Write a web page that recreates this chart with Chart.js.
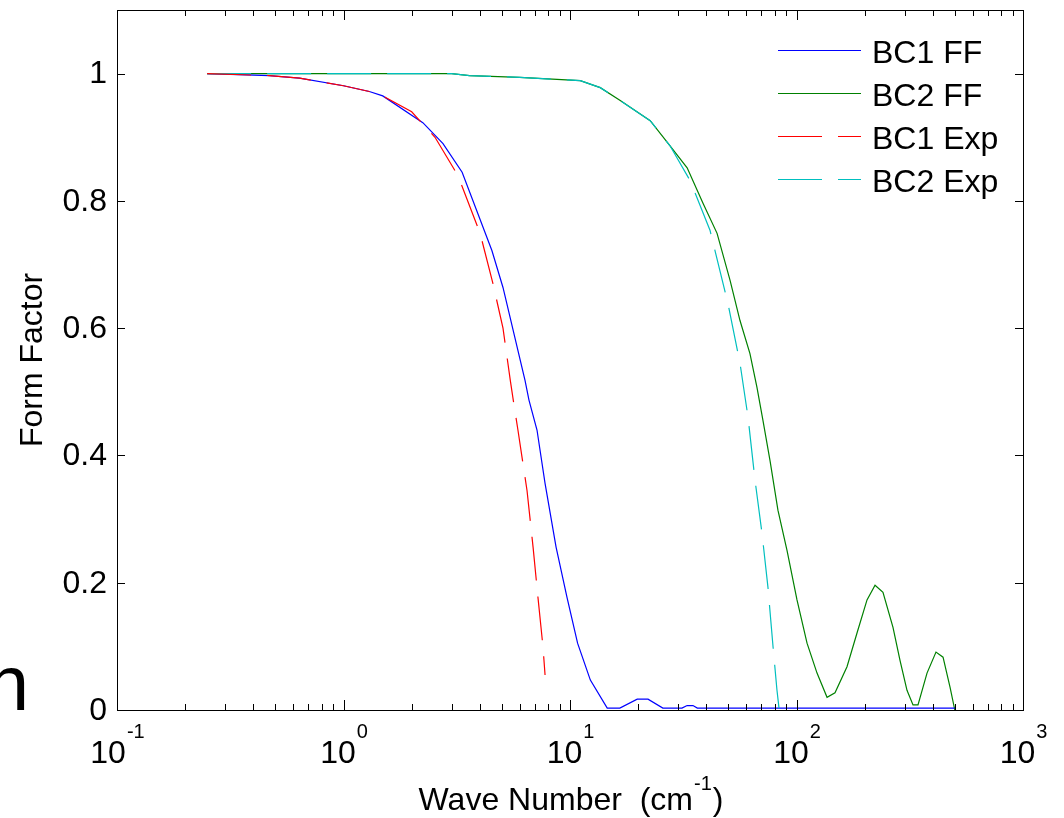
<!DOCTYPE html>
<html lang="en">
<head>
<meta charset="UTF-8">
<title>Form Factor</title>
<script src="https://cdn.jsdelivr.net/npm/chart.js@4.4.1/dist/chart.umd.min.js"></script>
<style>
  body { margin: 0; background: #fff; }
</style>
</head>
<body>
<canvas id="myChart" width="1064" height="818"></canvas>
<script>
// values (wave number in cm^-1, form factor)
var bc1Wn = [0.25, 0.47, 0.64, 1.0, 1.3, 1.49, 2.24, 2.75, 3.34, 4.52, 5.06, 6.33, 6.59, 7.15, 7.76, 8.68, 9.7, 10.8, 12.3, 14.6, 16.6, 19.8, 22.1, 25.7, 31.2, 32.9, 34.9, 36.5, 500];
var bc1FF = [1.0, 0.997, 0.993, 0.981, 0.972, 0.965, 0.923, 0.89, 0.845, 0.722, 0.664, 0.518, 0.487, 0.44, 0.356, 0.256, 0.177, 0.105, 0.047, 0.003, 0.003, 0.017, 0.017, 0.003, 0.003, 0.007, 0.007, 0.003, 0.003];

var bc2Wn = [0.25, 3.0, 3.6, 6.0, 11.1, 13.6, 16.6, 22.6, 27.6, 32.9, 38.7, 44.6, 50.9, 56.3, 62.3, 66.9, 71.1, 76.4, 82.8, 90.8, 100.5, 111.3, 123.2, 136.4, 147.9, 167.1, 185, 204.8, 222.2, 240.9, 266.7, 286.4, 307.5, 326.9, 343.9, 376.9, 412.9, 443.6, 476.2, 500];
var bc2FF = [1.0, 1.0, 0.997, 0.994, 0.989, 0.978, 0.958, 0.926, 0.887, 0.852, 0.796, 0.749, 0.675, 0.612, 0.56, 0.507, 0.455, 0.392, 0.314, 0.251, 0.173, 0.105, 0.058, 0.020, 0.027, 0.068, 0.121, 0.173, 0.196, 0.185, 0.13, 0.078, 0.031, 0.008, 0.008, 0.058, 0.091, 0.083, 0.036, 0.0];

var bc1ExpWn = [0.25, 0.47, 0.64, 1.0, 1.3, 1.49, 2.0, 2.535, 3.2, 4.01, 4.57, 5.06, 5.45, 5.6, 5.89, 6.46, 6.87, 7.22, 7.6, 7.76];
var bc1Exp = [1.0, 0.997, 0.993, 0.981, 0.972, 0.965, 0.94, 0.9, 0.84, 0.749, 0.67, 0.60, 0.518, 0.49, 0.44, 0.345, 0.256, 0.177, 0.099, 0.055];

var bc2ExpWn = [0.25, 3.0, 3.6, 6.0, 11.1, 13.6, 16.6, 22.6, 27.6, 33.9, 41.5, 49.8, 56.3, 61.1, 65.6, 70.4, 74.8, 78.8, 82.0, 83.7];
var bc2Exp = [1.0, 1.0, 0.997, 0.994, 0.989, 0.978, 0.958, 0.926, 0.887, 0.832, 0.754, 0.639, 0.545, 0.46, 0.361, 0.278, 0.193, 0.099, 0.031, 0.003];

var yTicks = [0, 0.2, 0.4, 0.6, 0.8, 1];
var yTickLabels = ['0', '0.2', '0.4', '0.6', '0.8', '1'];
var xDecades = [-1, 0, 1, 2, 3];
var legendLabels = ['BC1 FF', 'BC2 FF', 'BC1 Exp', 'BC2 Exp'];

var FONT = '"Liberation Sans", Arial, Helvetica, sans-serif';

function pts(xs, ys) {
    return xs.map(function (x, i) { return {x: x, y: ys[i]}; });
}

// ticks, box, tick labels, titles, legend (MATLAB look)
var matlabAxes = {
    id: 'matlabAxes',
    afterDraw: function (chart) {
        var ctx = chart.ctx;
        var a = chart.chartArea;
        var xs = chart.scales.x, ys = chart.scales.y;
        ctx.save();
        ctx.strokeStyle = '#000';
        ctx.lineWidth = 1;
        ctx.strokeRect(Math.round(a.left) + 0.5, Math.round(a.top) + 0.5, Math.round(a.right - a.left), Math.round(a.bottom - a.top));

        ctx.beginPath();
        for (var d = -1; d <= 2; d++) {
            for (var m = 1; m <= 9; m++) {
                var px = Math.round(xs.getPixelForValue(m * Math.pow(10, d))) + 0.5;
                var len = m === 1 ? 10 : 6;
                ctx.moveTo(px, a.bottom); ctx.lineTo(px, a.bottom - len);
                ctx.moveTo(px, a.top); ctx.lineTo(px, a.top + len);
            }
        }
        yTicks.forEach(function (v) {
            var py = Math.round(ys.getPixelForValue(v)) + 0.5;
            ctx.moveTo(a.left, py); ctx.lineTo(a.left + 8, py);
            ctx.moveTo(a.right, py); ctx.lineTo(a.right - 8, py);
        });
        ctx.stroke();

        // y tick labels
        ctx.fillStyle = '#000';
        ctx.font = '32px ' + FONT;
        ctx.textAlign = 'right';
        ctx.textBaseline = 'middle';
        yTicks.forEach(function (v, i) {
            ctx.fillText(yTickLabels[i], a.left - 10, ys.getPixelForValue(v) + 1);
        });

        // x tick labels 10^n
        ctx.textBaseline = 'alphabetic';
        ctx.textAlign = 'left';
        xDecades.forEach(function (d) {
            var px = xs.getPixelForValue(Math.pow(10, d));
            ctx.font = '32px ' + FONT;
            var w1 = ctx.measureText('10').width;
            ctx.font = '20px ' + FONT;
            var w2 = ctx.measureText(String(d)).width;
            var x0 = px - (w1 + w2) / 2;
            ctx.font = '32px ' + FONT;
            ctx.fillText('10', x0, 763);
            ctx.font = '20px ' + FONT;
            ctx.fillText(String(d), x0 + w1 + 1, 738);
        });

        // x title with superscript
        ctx.font = '32px ' + FONT;
        var t1 = 'Wave Number  (cm', t3 = ')';
        var wa = ctx.measureText(t1).width, wc = ctx.measureText(t3).width;
        ctx.font = '20px ' + FONT;
        var wb = ctx.measureText('-1').width;
        var cx = (a.left + a.right) / 2;
        var sx = cx - (wa + wb + wc) / 2;
        ctx.font = '32px ' + FONT;
        ctx.fillText(t1, sx, 810);
        ctx.fillText(t3, sx + wa + wb + 2, 810);
        ctx.font = '20px ' + FONT;
        ctx.fillText('-1', sx + wa + 1, 790);

        // y title
        ctx.save();
        ctx.translate(42, (a.top + a.bottom) / 2);
        ctx.rotate(-Math.PI / 2);
        ctx.font = '32px ' + FONT;
        ctx.textAlign = 'center';
        ctx.textBaseline = 'alphabetic';
        ctx.fillText('Form Factor', 0, 0);
        ctx.restore();

        // legend
        legendLabels.forEach(function (lab, i) {
            var ds = chart.data.datasets.find(function (s) { return s.label === lab; });
            var ly = 50 + i * 43;
            ctx.beginPath();
            ctx.strokeStyle = ds.borderColor;
            ctx.lineWidth = 1.2;
            ctx.setLineDash(ds.borderDash || []);
            ctx.moveTo(778, ly + 0.5); ctx.lineTo(861, ly + 0.5);
            ctx.stroke();
            ctx.setLineDash([]);
            ctx.fillStyle = '#000';
            ctx.font = '32px ' + FONT;
            ctx.textAlign = 'left';
            ctx.textBaseline = 'alphabetic';
            ctx.fillText(lab, 872, ly + 12.5);
        });

        // stray glyph at the left edge of the picture
        ctx.font = '77px ' + FONT;
        ctx.textAlign = 'right';
        ctx.textBaseline = 'alphabetic';
        ctx.fillText('n', 29, 710);
        ctx.restore();
    }
};

var ctx = document.getElementById('myChart').getContext('2d');
var myChart = new Chart(ctx, {
    type: 'line',
    data: {
        datasets: [
            {label: 'BC1 FF', data: pts(bc1Wn, bc1FF), borderColor: '#0000ff', borderWidth: 1.2, order: 1},
            {label: 'BC2 FF', data: pts(bc2Wn, bc2FF), borderColor: '#008000', borderWidth: 1.2, order: 1},
            {label: 'BC1 Exp', data: pts(bc1ExpWn, bc1Exp), borderColor: '#ff0000', borderWidth: 1.2, borderDash: [44, 16], order: 0},
            {label: 'BC2 Exp', data: pts(bc2ExpWn, bc2Exp), borderColor: '#00bfbf', borderWidth: 1.2, borderDash: [44, 16], order: 0}
        ]
    },
    options: {
        responsive: false,
        animation: false,
        layout: {padding: {left: 0, top: 10, right: 41, bottom: 0}},
        elements: {point: {radius: 0}, line: {tension: 0, fill: false}},
        plugins: {legend: {display: false}, tooltip: {enabled: false}},
        scales: {
            x: {
                type: 'logarithmic', min: 0.1, max: 1000,
                grid: {display: false}, border: {display: false},
                ticks: {display: false},
                afterFit: function (s) { s.height = 108; }
            },
            y: {
                min: 0, max: 1.1,
                grid: {display: false, drawTicks: false}, border: {display: false},
                ticks: {display: false, stepSize: 0.2},
                afterFit: function (s) { s.width = 117; }
            }
        }
    },
    plugins: [matlabAxes]
});
</script>
</body>
</html>
